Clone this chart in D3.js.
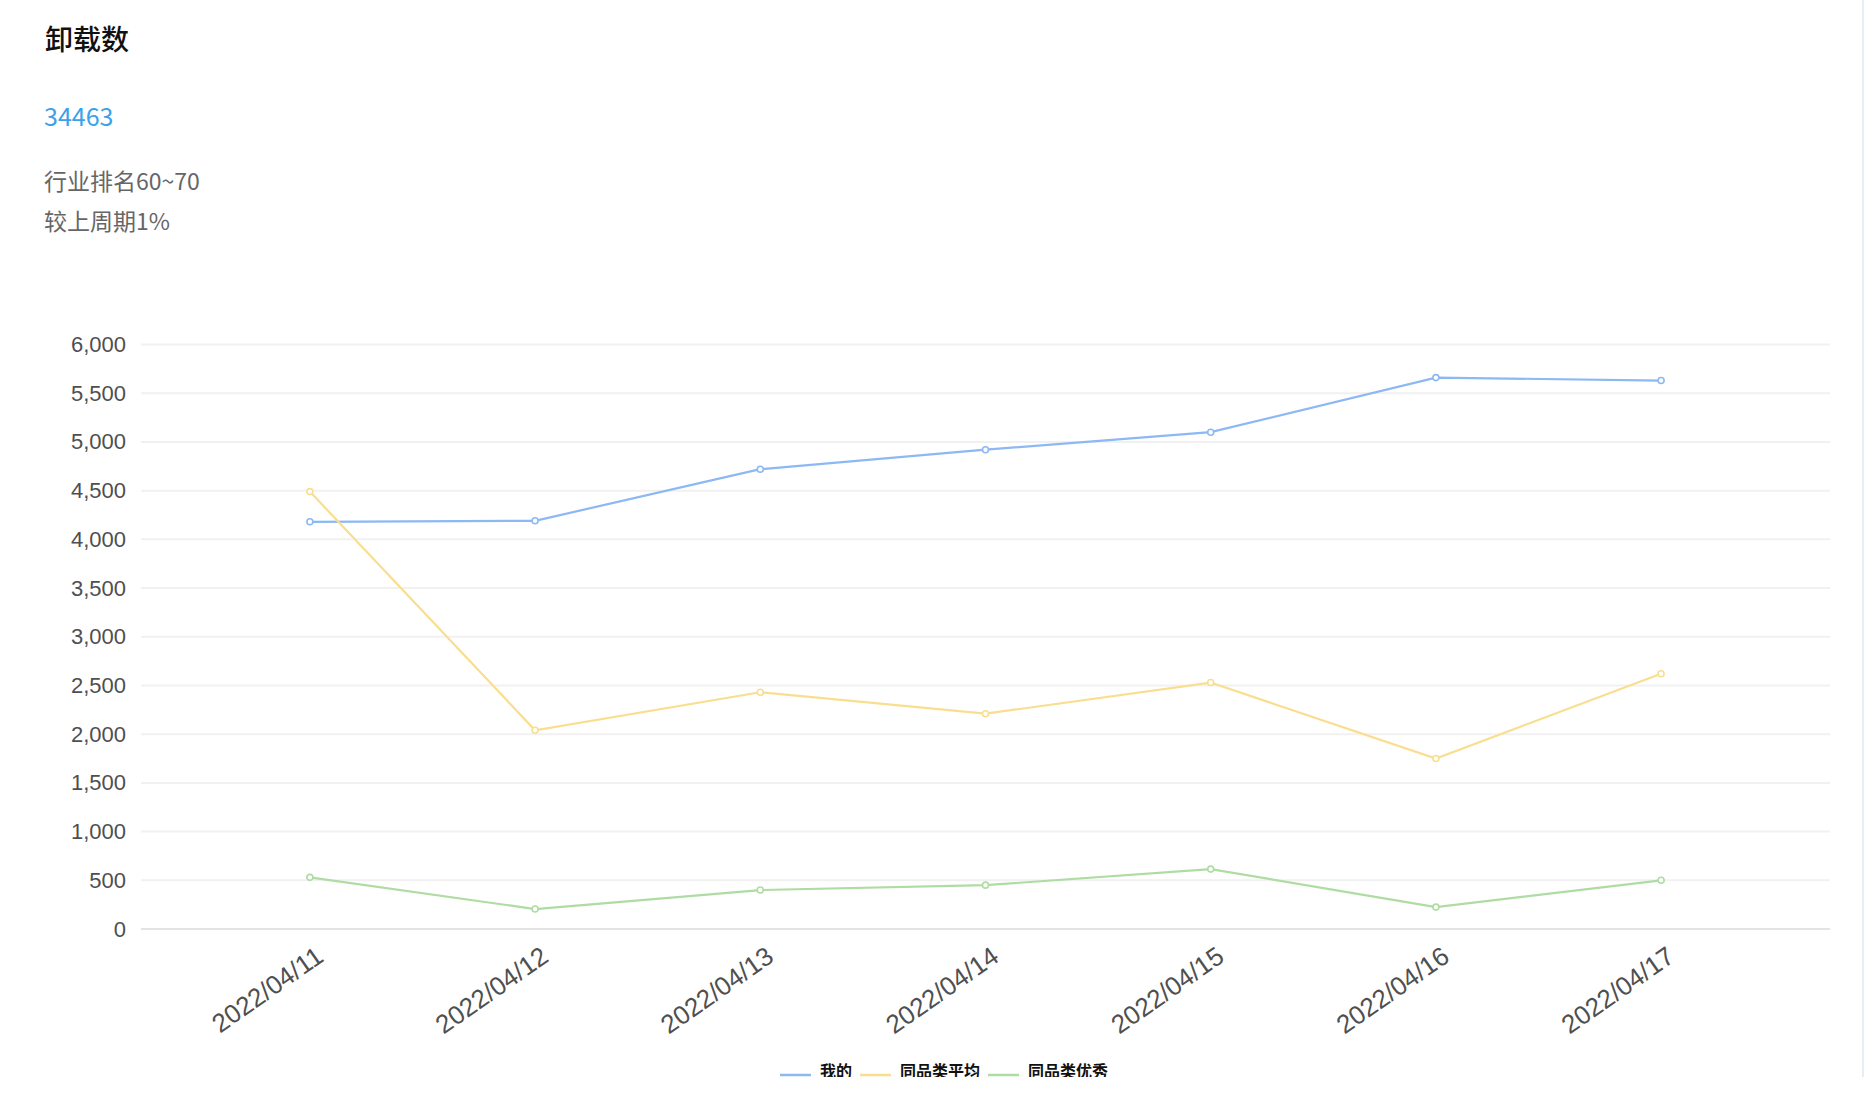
<!DOCTYPE html>
<html>
<head>
<meta charset="utf-8">
<script src="https://cdn.jsdelivr.net/npm/d3@7"></script>
<style>
  html, body { margin: 0; padding: 0; background: #fff; }
  #card { position: absolute; left: 0; top: 0; width: 1862px; height: 1077px;
          border-right: 2px solid #e8edf3; overflow: hidden; }
  svg { display: block; }
  .title { font: 500 28px "Noto Sans CJK SC", sans-serif; fill: #111; }
  .total { font: 25px "Noto Sans CJK SC", sans-serif; fill: #3ba2e9; }
  .sub   { font: 23px "Noto Sans CJK SC", sans-serif; fill: #666; }
  .axis-label { font: 22px "Liberation Sans", Arial, sans-serif; fill: #4f4f4f; }
  .x-label { font-size: 26px; }
  .legend-label { font: bold 16px "Noto Sans CJK SC", sans-serif; fill: #111; }
</style>
</head>
<body>
<div id="card"></div>
<script>
  // --- data ---
  const dates = ["2022/04/11", "2022/04/12", "2022/04/13", "2022/04/14", "2022/04/15", "2022/04/16", "2022/04/17"];
  const mine    = [4180, 4190, 4720, 4920, 5100, 5660, 5630];
  const avg     = [4490, 2040, 2430, 2210, 2530, 1750, 2620];
  const best    = [530, 205, 400, 450, 615, 225, 500];
  const seriesNames = ["我的", "同品类平均", "同品类优秀"];
  const yTicks = [0, 500, 1000, 1500, 2000, 2500, 3000, 3500, 4000, 4500, 5000, 5500, 6000];

  const colors = ["#8cb8f4", "#f9de8f", "#aedca2"];
  const series = [mine, avg, best].map((vals, i) => ({ name: seriesNames[i], color: colors[i], vals }));

  const W = 1862, H = 1077;
  const plotLeft = 141, plotRight = 1830, plotTop = 344.5, plotBottom = 929;

  const svg = d3.select("#card").append("svg").attr("width", W).attr("height", H);

  // header texts
  svg.append("text").attr("class", "title").attr("x", 45).attr("y", 50).text("卸载数");
  svg.append("text").attr("class", "total").attr("x", 44).attr("y", 126).text("34463");
  svg.append("text").attr("class", "sub").attr("x", 44).attr("y", 190).text("行业排名60~70");
  svg.append("text").attr("class", "sub").attr("x", 44).attr("y", 230).text("较上周期1%");

  const x = d3.scalePoint().domain(dates).range([plotLeft, plotRight]).padding(0.75);
  const y = d3.scaleLinear().domain([0, 6000]).range([plotBottom, plotTop]);

  // grid lines
  svg.append("g")
    .selectAll("line")
    .data(yTicks.filter(d => d > 0))
    .join("line")
      .attr("x1", plotLeft).attr("x2", plotRight)
      .attr("y1", d => y(d)).attr("y2", d => y(d))
      .attr("stroke", "#f1f1f1").attr("stroke-width", 2);

  // y axis labels
  const yAxis = svg.append("g")
    .attr("transform", `translate(${plotLeft},0)`)
    .call(d3.axisLeft(y).tickValues(yTicks).tickSize(0).tickPadding(15).tickFormat(d3.format(",")));
  yAxis.select(".domain").remove();
  yAxis.selectAll("text").attr("class", "axis-label").attr("fill", null);

  // x axis
  const xAxis = svg.append("g")
    .attr("transform", `translate(0,${plotBottom})`)
    .call(d3.axisBottom(x).tickSize(0).tickPadding(0));
  xAxis.select(".domain").remove();
  xAxis.append("line")
    .attr("x1", plotLeft).attr("x2", plotRight)
    .attr("stroke", "#e3e3e3").attr("stroke-width", 2);
  xAxis.selectAll(".tick text")
    .attr("class", "axis-label x-label").attr("fill", null)
    .attr("text-anchor", "end")
    .attr("dy", "0.71em")
    .attr("transform", "translate(4,16) rotate(-35)");

  // lines
  const line = d3.line().x((d, i) => x(dates[i])).y(d => y(d));
  const g = svg.append("g");
  series.forEach(s => {
    g.append("path")
      .attr("d", line(s.vals))
      .attr("fill", "none")
      .attr("stroke", s.color)
      .attr("stroke-width", 2.2);
    g.selectAll(null)
      .data(s.vals)
      .join("circle")
        .attr("cx", (d, i) => x(dates[i]))
        .attr("cy", d => y(d))
        .attr("r", 3)
        .attr("fill", "#fff")
        .attr("stroke", s.color)
        .attr("stroke-width", 1.6);
  });

  // legend (clipped by the card bottom, as in the source)
  const lg = svg.append("g").attr("transform", "translate(780,1075)");
  let lx = 0;
  series.forEach(s => {
    lg.append("line").attr("x1", lx).attr("x2", lx + 31)
      .attr("stroke", s.color).attr("stroke-width", 2.5);
    const t = lg.append("text").attr("class", "legend-label")
      .attr("x", lx + 40).attr("y", 1.5).text(s.name);
    lx += 40 + t.node().getComputedTextLength() + 8;
  });
</script>
</body>
</html>
